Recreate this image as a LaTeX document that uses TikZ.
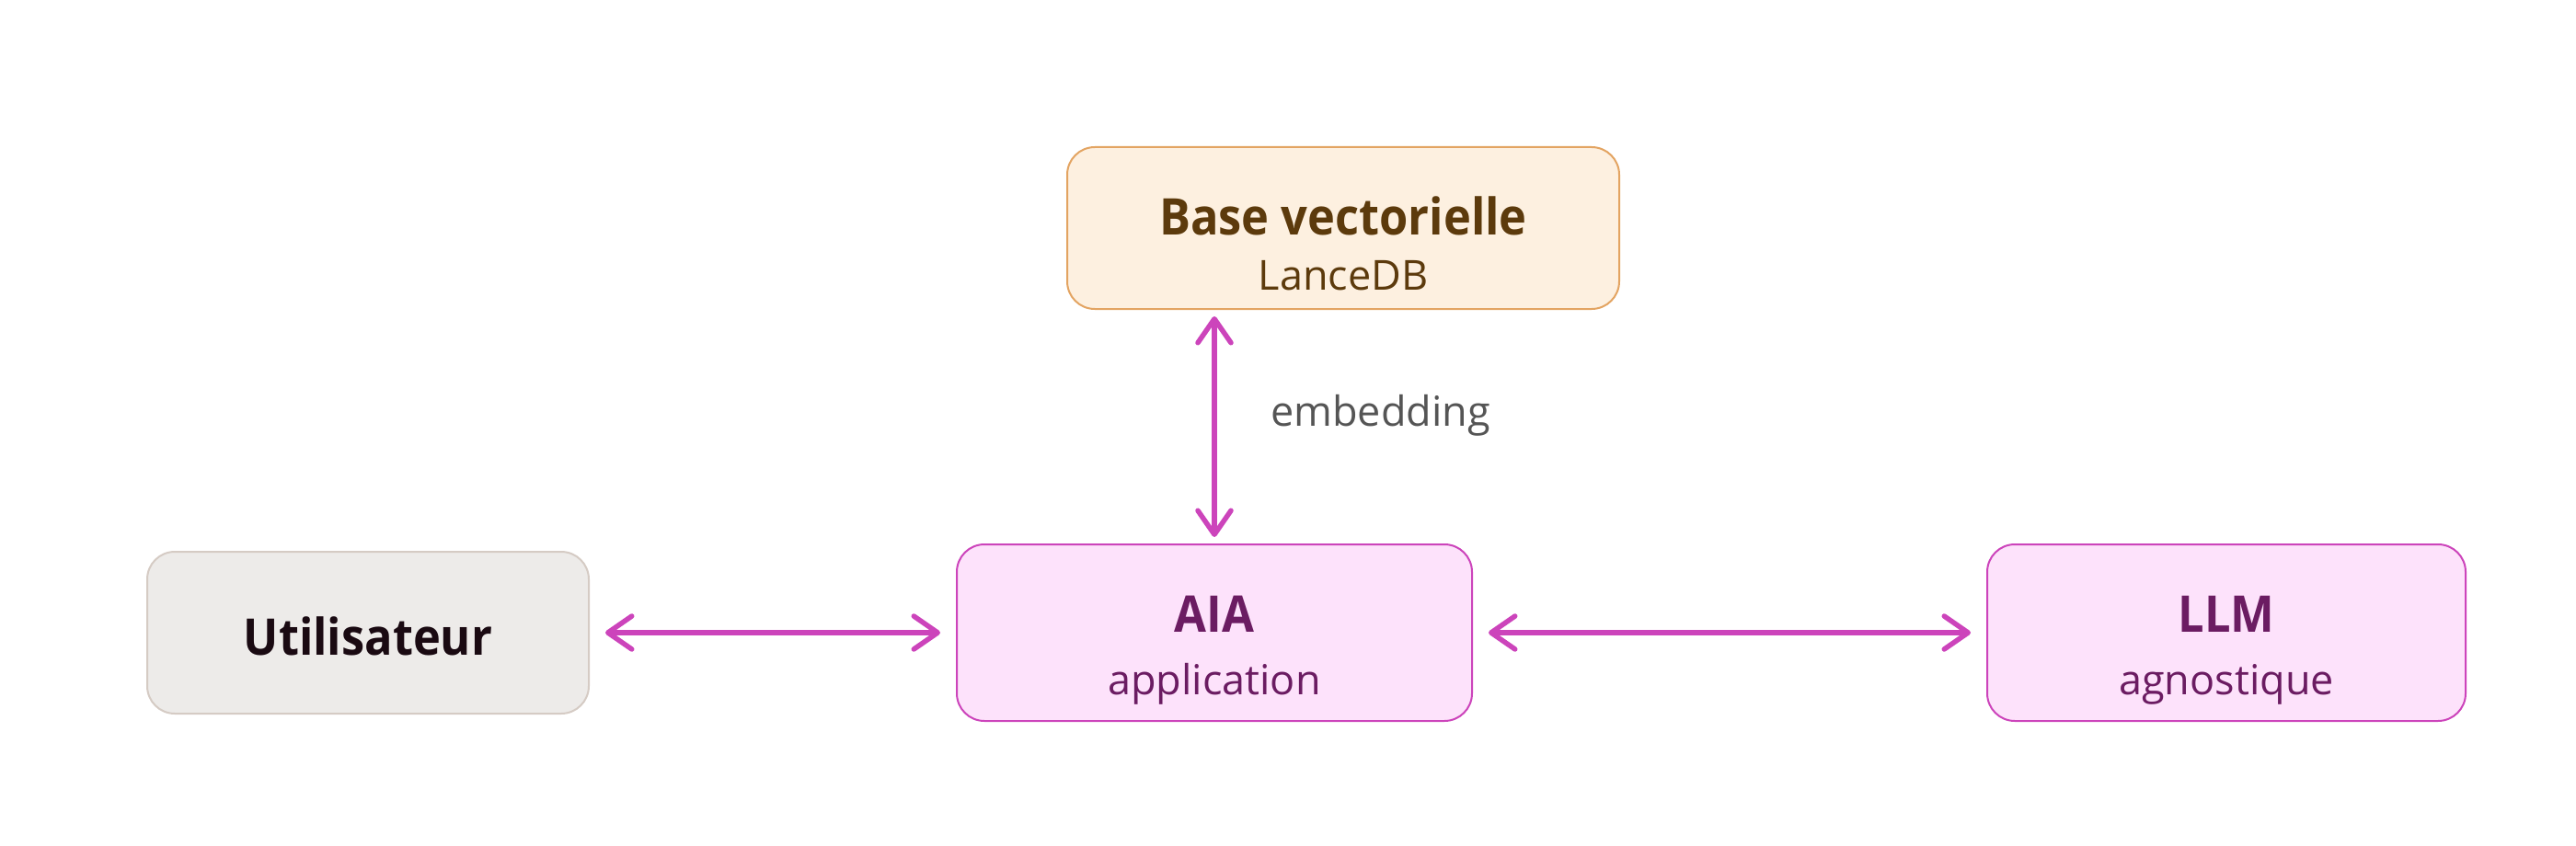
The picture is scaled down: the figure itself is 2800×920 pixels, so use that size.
\documentclass[tikz,border=0pt]{standalone}
\usepackage{fontspec}
\setmainfont{Open Sans}[BoldFeatures={FakeStretch=0.92}]
\usetikzlibrary{arrows.meta}
\definecolor{peachfill}{HTML}{FDF0E0}
\definecolor{peachline}{HTML}{E3A462}
\definecolor{browntext}{HTML}{5C3A0C}
\definecolor{greyfill}{HTML}{EDEBE9}
\definecolor{greyline}{HTML}{D5CBC4}
\definecolor{darktext}{HTML}{1A0A12}
\definecolor{pinkfill}{HTML}{FDE2FB}
\definecolor{pinkline}{HTML}{CC44BB}
\definecolor{purpletext}{HTML}{6B1C62}
\definecolor{labelgrey}{HTML}{555555}
\tikzset{
  box/.style={draw, line width=2pt, rounded corners=30pt, inner sep=0pt},
  titletext/.style={anchor=base, inner sep=0pt, font=\fontsize{55}{60}\selectfont\bfseries},
  subtext/.style={anchor=base, inner sep=0pt, font=\fontsize{45}{52}\selectfont},
  link/.style={draw=pinkline, line width=5.5pt, line cap=round, {Straight Barb[length=26pt,width=36pt,line width=5.5pt,round]}-{Straight Barb[length=26pt,width=36pt,line width=5.5pt,round]}},
}
\begin{document}
\begin{tikzpicture}[x=1pt,y=-1pt]
\useasboundingbox (0,0) rectangle (2800,920);
% boxes
\node[box, fill=peachfill, draw=peachline, minimum width=600pt, minimum height=176pt] (base) at (1460,248) {};
\node[box, fill=greyfill, draw=greyline, minimum width=480pt, minimum height=176pt] (user) at (400,688) {};
\node[box, fill=pinkfill, draw=pinkline, minimum width=560pt, minimum height=192pt] (aia) at (1320,688) {};
\node[box, fill=pinkfill, draw=pinkline, minimum width=520pt, minimum height=192pt] (llm) at (2420,688) {};
% texts
\node[titletext, text=browntext] (baset) at (1460,255) {Base vectorielle};
\node[subtext, text=browntext] (bases) at (1460,315) {LanceDB};
\node[titletext, text=darktext] (usert) at (400,712) {Utilisateur};
\node[titletext, text=purpletext] (aiat) at (1320,687) {AIA};
\node[subtext, text=purpletext] (aias) at (1320,755) {application};
\node[titletext, text=purpletext] (llmt) at (2420,687) {LLM};
\node[subtext, text=purpletext] (llms) at (2420,755) {agnostique};
% connectors
\coordinate (basefoot) at (aia.north |- base.south);
\draw[link, shorten <=7pt, shorten >=7pt] (basefoot) -- (aia.north);
\draw[link, shorten <=17pt, shorten >=17pt] (user.east) -- (aia.west);
\draw[link, shorten <=17pt, shorten >=17pt] (aia.east) -- (llm.west);
\node[anchor=base west, inner sep=0pt, text=labelgrey, font=\fontsize{45}{52}\selectfont] (emb) at (1381,463) {embedding};
\end{tikzpicture}
\end{document}
